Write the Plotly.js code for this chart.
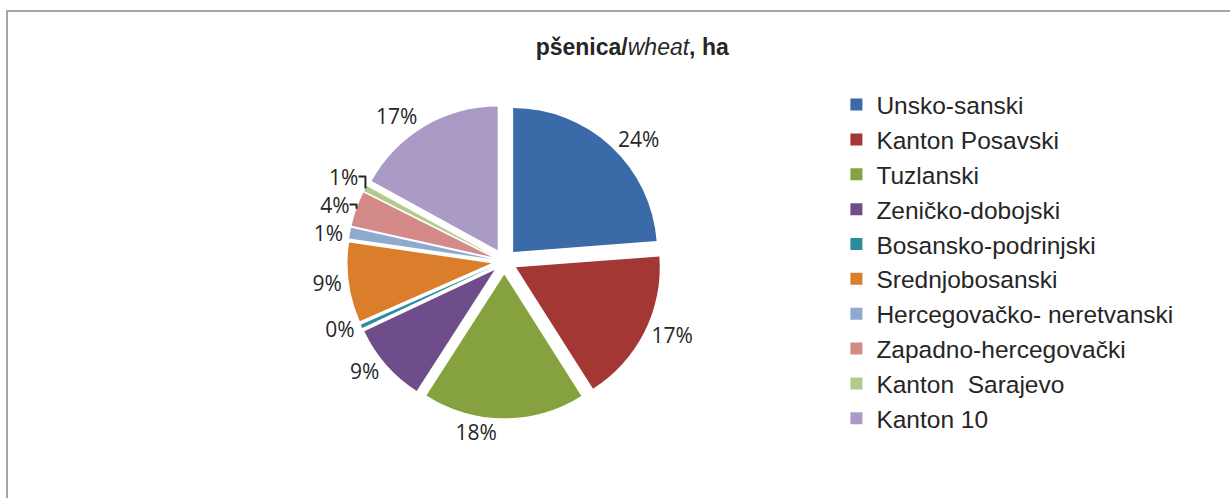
<!DOCTYPE html>
<html>
<head>
<meta charset="utf-8">
<script src="https://cdn.plot.ly/plotly-3.0.1.min.js"></script>
<style>
  html, body { margin: 0; padding: 0; background: #ffffff; }
  #frame { position: absolute; left: 6px; top: 10px; width: 1224px; height: 488px;
           border-top: 2px solid #a6a6a6; border-left: 2px solid #a6a6a6; box-sizing: border-box; }
  #chart { position: absolute; left: 0; top: 0; width: 1230px; height: 498px; }
</style>
</head>
<body>
<div id="frame"></div>
<div id="chart"></div>
<script>
const categories = ["Unsko-sanski", "Kanton Posavski", "Tuzlanski", "Zeničko-dobojski",
  "Bosansko-podrinjski", "Srednjobosanski", "Hercegovačko- neretvanski",
  "Zapadno-hercegovački", "Kanton  Sarajevo", "Kanton 10"];
const shares = [23.8, 17.2, 18.1, 8.9, 0.4, 8.9, 1.2, 3.9, 0.6, 17.0];
const colors = ["#3A6BA8", "#A33734", "#86A23E", "#6E4D8A", "#2A8C9E",
  "#DA7E2C", "#8FAACF", "#D48A89", "#B3CB8A", "#A99BC5"];

const trace = {
  type: "pie",
  labels: categories,
  values: shares,
  sort: false,
  direction: "clockwise",
  rotation: 0,
  pull: 0.09,
  marker: { colors: colors, line: { color: "#ffffff", width: 0 } },
  textposition: "outside",
  texttemplate: "%{percent:.0%}",
  textfont: { family: "Open Sans, Liberation Sans, sans-serif", size: 21, color: "#262626" },
  hoverinfo: "label+percent",
  domain: { x: [0.18, 0.64], y: [0.16, 0.79] },
  automargin: false
};

const layout = {
  width: 1230, height: 498,
  margin: { l: 0, r: 0, t: 0, b: 0 },
  paper_bgcolor: "rgba(0,0,0,0)",
  plot_bgcolor: "rgba(0,0,0,0)",
  title: {
    text: "<b>pšenica/</b><i>wheat</i><b>, ha</b>",
    font: { family: "Liberation Sans, Arial, sans-serif", size: 23, color: "#262626" },
    x: 0.514, xanchor: "center", y: 0.905, yanchor: "middle"
  },
  showlegend: true,
  legend: {
    x: 0.680, xanchor: "left", y: 0.835, yanchor: "top",
    font: { family: "Liberation Sans, Arial, sans-serif", size: 24.5, color: "#262626" },
    itemwidth: 30, traceorder: "normal", bgcolor: "rgba(0,0,0,0)"
  }
};

Plotly.newPlot("chart", [trace], layout, { displayModeBar: false });
</script>
</body>
</html>
